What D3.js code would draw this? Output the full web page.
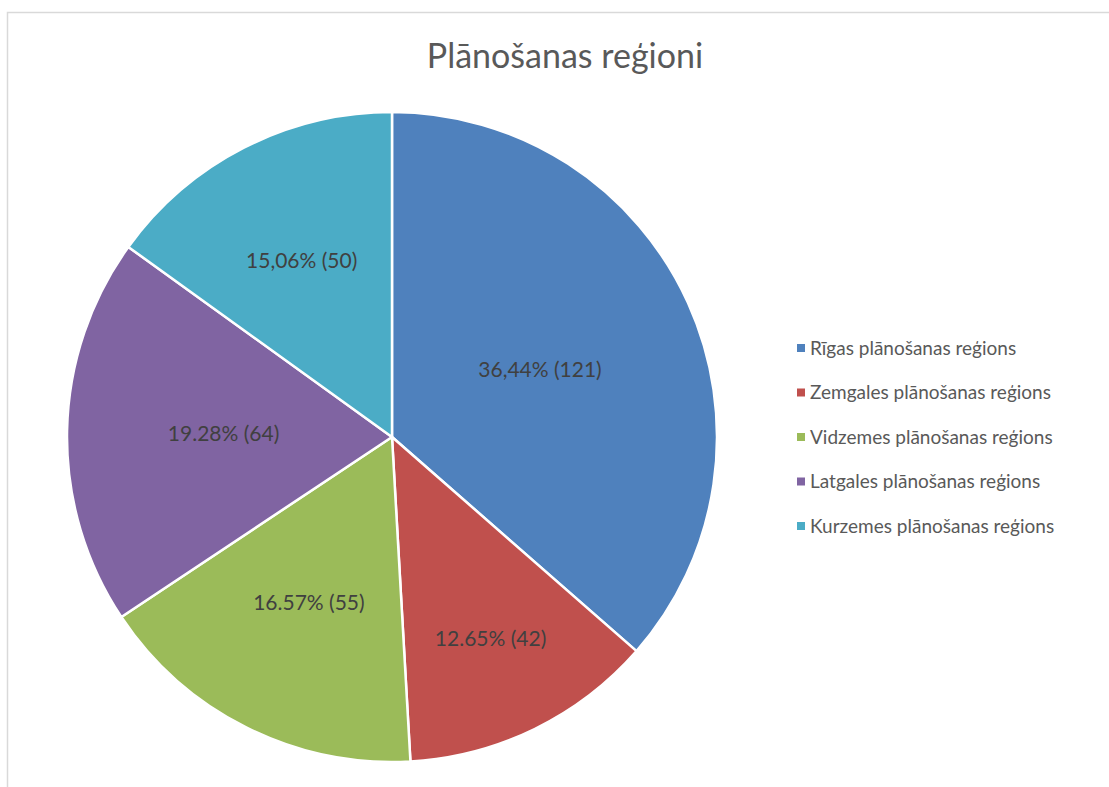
<!DOCTYPE html>
<html>
<head>
<meta charset="utf-8">
<script src="https://cdn.jsdelivr.net/npm/d3@7"></script>
<style>
  body { margin: 0; background: #fff; }
  svg { display: block; font-family: Lato, "Open Sans", sans-serif; }
</style>
</head>
<body>
<svg id="chart" width="1109" height="787"></svg>
<script>
// data
var regions = ["Rīgas plānošanas reģions", "Zemgales plānošanas reģions",
  "Vidzemes plānošanas reģions", "Latgales plānošanas reģions", "Kurzemes plānošanas reģions"];
var counts = [121, 42, 55, 64, 50];
var labels = ["36,44% (121)", "12.65% (42)", "16.57% (55)", "19.28% (64)", "15,06% (50)"];
var colors = ["#4F81BD", "#C0504D", "#9BBB59", "#8064A2", "#4BACC6"];

var width = 1109, height = 787;
var cx = 392, cy = 437, radius = 325;

var svg = d3.select("#chart");

// chart area border (only left and top visible in the picture)
svg.append("rect")
    .attr("x", 7.5).attr("y", 12.5)
    .attr("width", width + 20).attr("height", height + 20)
    .attr("fill", "none")
    .attr("stroke", "#d9d9d9")
    .attr("stroke-width", 1.5);

svg.append("text")
    .attr("x", 565).attr("y", 68)
    .attr("text-anchor", "middle")
    .attr("fill", "#595959")
    .style("font-size", "34px")
    .text("Plānošanas reģioni");

var data = regions.map((r, i) => ({name: r, value: counts[i], label: labels[i], color: colors[i]}));

var pie = d3.pie().sort(null).value(d => d.value);
var arc = d3.arc().innerRadius(0).outerRadius(radius);

// narrow slices push their label further out, like Excel's centred labels
function labelPos(d) {
    var mid = (d.startAngle + d.endAngle) / 2;
    var half = (d.endAngle - d.startAngle) / 2;
    var dist = Math.max(radius / 2, 49 + 68 / Math.sin(Math.min(half, Math.PI / 2)));
    return [Math.sin(mid) * dist, -Math.cos(mid) * dist];
}

var g = svg.append("g").attr("transform", "translate(" + cx + "," + cy + ")");

var slices = g.selectAll("g.slice")
    .data(pie(data))
    .enter().append("g")
    .attr("class", "slice");

slices.append("path")
    .attr("d", arc)
    .attr("fill", d => d.data.color)
    .attr("stroke", "#fff")
    .attr("stroke-width", 2.5)
    .attr("stroke-linejoin", "round");

slices.append("text")
    .attr("transform", d => "translate(" + labelPos(d) + ")")
    .attr("dy", "0.35em")
    .attr("text-anchor", "middle")
    .attr("fill", "#404040")
    .style("font-size", "21px")
    .text(d => d.data.label);

// legend
var legend = svg.append("g").attr("transform", "translate(797,348)");
var rows = legend.selectAll("g")
    .data(data)
    .enter().append("g")
    .attr("transform", (d, i) => "translate(0," + (i * 44.5) + ")");

rows.append("rect")
    .attr("x", 0).attr("y", -4)
    .attr("width", 8).attr("height", 8)
    .attr("fill", d => d.color);

rows.append("text")
    .attr("x", 13)
    .attr("dy", "0.35em")
    .attr("fill", "#595959")
    .style("font-size", "19px")
    .text(d => d.name);
</script>
</body>
</html>
